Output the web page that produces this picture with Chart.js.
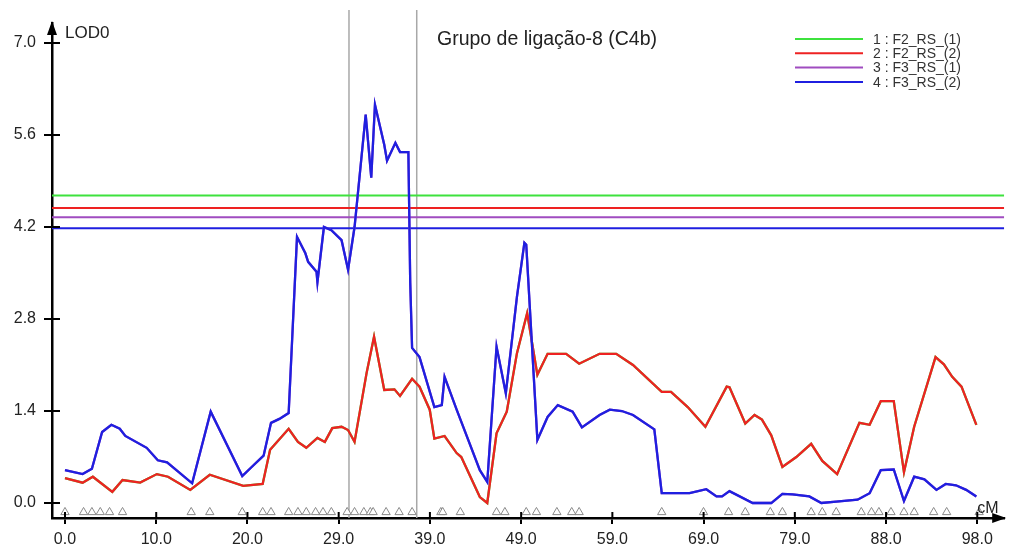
<!DOCTYPE html>
<html>
<head>
<meta charset="utf-8">
<script src="https://cdn.jsdelivr.net/npm/chart.js@4.4.1/dist/chart.umd.min.js"></script>
<style>
  html, body { margin: 0; padding: 0; background: #fff; }
  #wrap { width: 1010px; height: 548px; position: relative; }
</style>
</head>
<body>
<div id="wrap"><canvas id="lod"></canvas></div>
<script>
// positions (cM) and LOD values
const cmF2 = [0, 1.9, 3.0, 5.1, 6.2, 8.1, 9.9, 11.1, 13.5, 15.6, 19.2, 21.3, 22.1, 24.1, 25.1, 26.0, 27.2, 28.0, 28.8, 29.8,
  30.5, 31.2, 32.5, 33.3, 34.4, 35.5, 36.1, 37.4, 38.2, 39.3, 39.8, 40.9, 42.2, 42.7, 44.7, 45.5, 46.5, 47.6, 48.7, 49.8,
  50.9, 52.0, 54.0, 55.4, 57.6, 59.4, 61.2, 64.3, 65.3, 67.1, 69.0, 71.3, 71.6, 73.3, 74.3, 75.1, 76.1, 77.3, 78.8, 80.4,
  81.6, 83.2, 85.6, 86.7, 87.9, 89.3, 90.4, 91.5, 93.8, 94.7, 95.6, 96.6, 98.2];
const lodF2 = [0.38, 0.31, 0.40, 0.17, 0.35, 0.31, 0.44, 0.40, 0.20, 0.43, 0.26, 0.29, 0.81, 1.13, 0.93, 0.84, 0.99, 0.93, 1.14, 1.16,
  1.11, 0.93, 1.98, 2.53, 1.72, 1.73, 1.63, 1.89, 1.77, 1.42, 0.98, 1.02, 0.76, 0.70, 0.09, 0.0, 1.06, 1.39, 2.28, 2.89,
  1.95, 2.27, 2.27, 2.12, 2.27, 2.27, 2.10, 1.69, 1.69, 1.46, 1.16, 1.77, 1.76, 1.21, 1.34, 1.27, 1.03, 0.55, 0.70, 0.90,
  0.64, 0.44, 1.22, 1.19, 1.55, 1.55, 0.47, 1.16, 2.22, 2.11, 1.92, 1.77, 1.19];

const cmF3 = [0, 1.9, 2.9, 4.0, 5.0, 5.9, 6.5, 8.8, 10.0, 11.0, 13.7, 15.7, 19.1, 20.2, 21.4, 22.2, 23.1, 24.1, 25.0, 25.9,
  26.2, 27.1, 27.2, 27.9, 28.7, 29.8, 30.5, 31.2, 32.4, 33.0, 33.4, 34.4, 34.7, 35.6, 36.1, 37.0, 37.2, 37.4, 38.2, 39.8,
  40.6, 40.9, 42.2, 44.7, 45.5, 46.5, 47.5, 48.7, 49.5, 49.7, 50.9, 52.0, 53.1, 54.7, 55.7, 57.6, 58.7, 60.0, 61.2, 63.5,
  64.3, 67.3, 69.1, 70.2, 70.8, 71.6, 74.1, 76.1, 77.3, 78.4, 80.2, 81.5, 83.1, 85.4, 86.7, 87.9, 89.3, 90.4, 91.5, 92.6,
  93.9, 94.9, 96.0, 97.1, 98.2];
const lodF3 = [0.50, 0.44, 0.52, 1.08, 1.19, 1.13, 1.02, 0.84, 0.65, 0.62, 0.30, 1.39, 0.41, 0.56, 0.72, 1.22, 1.28, 1.37, 4.05, 3.80,
  3.67, 3.52, 3.36, 4.20, 4.15, 4.00, 3.55, 4.20, 5.91, 4.95, 6.06, 5.45, 5.21, 5.48, 5.34, 5.34, 3.35, 2.36, 2.22, 1.46,
  1.49, 1.92, 1.42, 0.50, 0.32, 2.38, 1.67, 3.14, 3.96, 3.93, 0.96, 1.31, 1.49, 1.39, 1.15, 1.34, 1.42, 1.40, 1.34, 1.12,
  0.15, 0.15, 0.21, 0.10, 0.10, 0.18, 0.0, 0.0, 0.14, 0.13, 0.10, 0.0, 0.02, 0.05, 0.15, 0.50, 0.51, 0.03, 0.40, 0.36,
  0.20, 0.29, 0.27, 0.20, 0.10];

// marker positions along the linkage group
const markerCM = [0, 2.0, 2.9, 3.8, 4.8, 6.2, 13.6, 15.6, 19.1, 21.3, 22.2, 24.1, 25.1, 26.0, 27.0, 27.8, 28.7, 30.4, 31.2, 32.2,
  32.9, 33.2, 34.6, 36.0, 37.4, 40.5, 40.7, 42.6, 46.5, 47.4, 49.7, 50.8, 53.0, 54.6, 55.4, 64.3, 68.8, 71.5, 73.3, 76.0,
  77.3, 80.4, 81.6, 83.1, 85.8, 86.9, 87.7, 89.0, 90.4, 91.5, 93.6, 95.0, 98.5];

const seriesNames = ["1 : F2_RS_(1)", "2 : F2_RS_(2)", "3 : F3_RS_(1)", "4 : F3_RS_(2)"];
const seriesColors = ["#3ee23e", "#ee2222", "#a04cc0", "#1f1fe0"];
const thresholds = [4.68, 4.49, 4.35, 4.18];
const intervalCM = [30.6, 37.9];

const xMin = -1.4, xMax = 101.2, yMin = -0.228, yMax = 7.304;
const xTickStep = 9.83, yTickStep = 1.4;

const pts = (xs, ys) => xs.map((x, i) => ({ x: x, y: ys[i] }));
const curveData = [pts(cmF2, lodF2), pts(cmF2, lodF2), pts(cmF3, lodF3), pts(cmF3, lodF3)];

const datasets = [];
// threshold lines
thresholds.forEach((t, i) => {
  datasets.push({
    data: [{ x: xMin, y: t }, { x: xMax, y: t }],
    borderColor: seriesColors[i], borderWidth: 2, pointRadius: 0, showLine: true, order: 20 - i,
  });
});
// interval lines
intervalCM.forEach((c) => {
  datasets.push({
    data: [{ x: c, y: yMin }, { x: c, y: 7.5 }],
    borderColor: "#a8a8a8", borderWidth: 1.5, pointRadius: 0, showLine: true, clip: false, order: 30,
  });
});
// LOD curves
curveData.forEach((d, i) => {
  datasets.push({
    label: seriesNames[i], data: d,
    borderColor: seriesColors[i], borderWidth: 2.3, pointRadius: 0, showLine: true, order: 10 - i,
  });
});
// markers
datasets.push({
  data: markerCM.map((c) => ({ x: c, y: -0.14 })),
  showLine: false, pointStyle: "triangle", pointRadius: 4.8,
  backgroundColor: "#fff", borderColor: "#8a8a8a", borderWidth: 1, order: 0,
});

const decor = {
  id: "decor",
  afterDraw(chart) {
    const { ctx, chartArea: a, scales } = chart;
    const x = scales.x, y = scales.y;
    ctx.save();
    ctx.strokeStyle = "#000";
    ctx.lineWidth = 2;
    ctx.beginPath();
    y.ticks.forEach((t) => {
      const py = y.getPixelForValue(t.value);
      ctx.moveTo(a.left, py); ctx.lineTo(a.left + 8, py);
    });
    x.ticks.forEach((t) => {
      const px = x.getPixelForValue(t.value);
      ctx.moveTo(px, a.bottom); ctx.lineTo(px, a.bottom - 6);
    });
    ctx.stroke();
    // arrow heads
    ctx.fillStyle = "#000";
    ctx.beginPath();
    ctx.moveTo(a.left, a.top - 2);
    ctx.lineTo(a.left - 5, a.top + 12);
    ctx.lineTo(a.left + 5, a.top + 12);
    ctx.closePath();
    ctx.fill();
    ctx.beginPath();
    ctx.moveTo(a.right + 2, a.bottom);
    ctx.lineTo(a.right - 12, a.bottom - 5);
    ctx.lineTo(a.right - 12, a.bottom + 5);
    ctx.closePath();
    ctx.fill();
    // texts
    ctx.fillStyle = "#222";
    ctx.textBaseline = "alphabetic";
    ctx.font = "17px 'Liberation Sans', Arial, sans-serif";
    ctx.fillText("LOD0", a.left + 13, a.top + 15);
    ctx.font = "16px 'Liberation Sans', Arial, sans-serif";
    ctx.fillText("cM", a.right - 27, a.bottom - 5);
    ctx.font = "19.5px 'Liberation Sans', Arial, sans-serif";
    ctx.fillText("Grupo de ligação-8 (C4b)", 437, 45);
    // legend
    ctx.font = "14px 'Liberation Sans', Arial, sans-serif";
    ctx.textBaseline = "middle";
    seriesNames.forEach((name, i) => {
      const ly = 39 + i * 14.3;
      ctx.strokeStyle = seriesColors[i];
      ctx.lineWidth = 2;
      ctx.beginPath();
      ctx.moveTo(795, ly); ctx.lineTo(863, ly);
      ctx.stroke();
      ctx.fillStyle = "#333";
      ctx.fillText(name, 873, ly + 1);
    });
    ctx.restore();
  },
};

const tickFont = { family: "'Liberation Sans', Arial, sans-serif", size: 16 };

new Chart(document.getElementById("lod"), {
  type: "scatter",
  data: { datasets: datasets },
  options: {
    responsive: true,
    maintainAspectRatio: false,
    animation: false,
    layout: { padding: { top: 23, right: 5, left: 0, bottom: 0 } },
    plugins: { legend: { display: false }, tooltip: { enabled: false } },
    scales: {
      x: {
        type: "linear", min: xMin, max: xMax,
        afterBuildTicks: (s) => {
          const t = [];
          for (let i = 0; i <= 10; i++) t.push({ value: i * xTickStep });
          s.ticks = t;
        },
        afterFit: (s) => { s.height = 30; },
        ticks: {
          autoSkip: false, maxRotation: 0, padding: 6, color: "#222", font: tickFont,
          callback: (v) => Math.round(v).toFixed(1),
        },
        grid: { drawOnChartArea: false, drawTicks: true, tickLength: 6, color: "#000", lineWidth: 2 },
        border: { color: "#000", width: 2.5 },
      },
      y: {
        type: "linear", min: yMin, max: yMax,
        afterBuildTicks: (s) => {
          const t = [];
          for (let i = 0; i <= 5; i++) t.push({ value: i * yTickStep });
          s.ticks = t;
        },
        afterFit: (s) => { s.width = 52; },
        ticks: {
          autoSkip: false, padding: 8, color: "#222", font: tickFont,
          callback: (v) => v.toFixed(1),
        },
        grid: { drawOnChartArea: false, drawTicks: true, tickLength: 8, color: "#000", lineWidth: 2 },
        border: { color: "#000", width: 2.5 },
      },
    },
  },
  plugins: [decor],
});
</script>
</body>
</html>
